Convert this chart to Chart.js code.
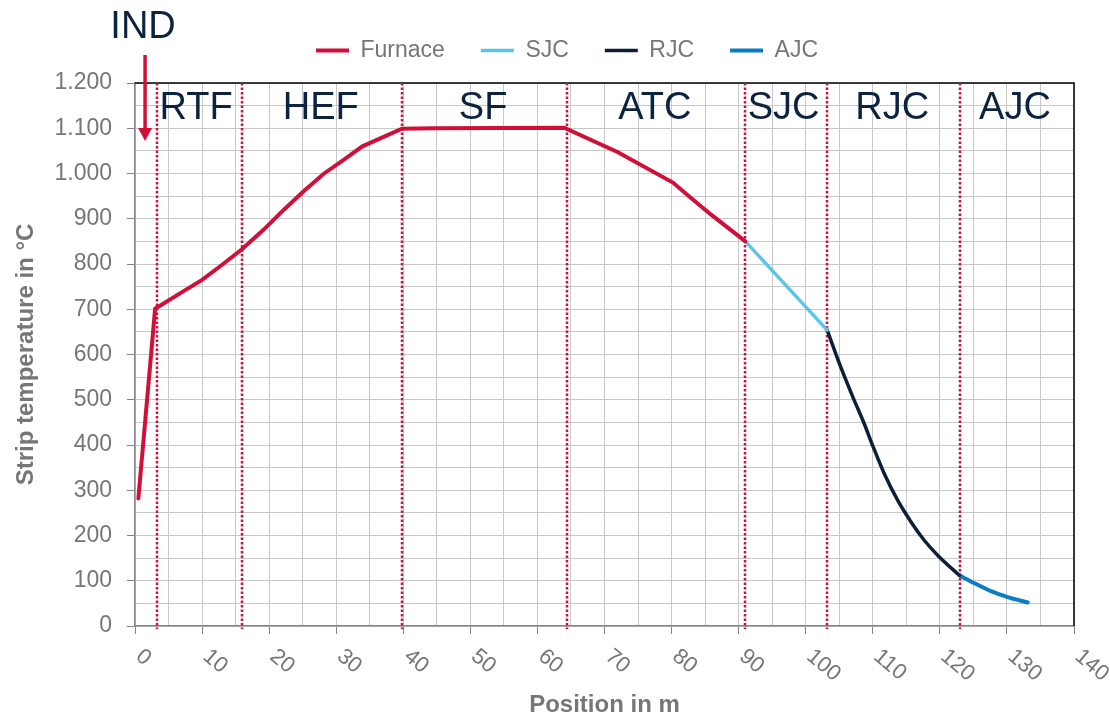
<!DOCTYPE html>
<html>
<head>
<meta charset="utf-8">
<title>Strip temperature</title>
<script src="https://cdn.jsdelivr.net/npm/chart.js@4.4.0/dist/chart.umd.min.js"></script>
<style>
    html, body { margin: 0; padding: 0; background: #fff; }
    canvas { display: block; }
</style>
</head>
<body>
<canvas id="chart" width="1110" height="717"></canvas>
<script>
(function() {
    'use strict';

    // values (position in m, temperature in °C)
    var furnaceX = [0.5, 3.0, 6.7, 10, 12.7, 15.9, 19.2, 22.2, 25.1, 28.1, 31.1, 33.9, 39.8, 44.6, 64.0, 72.0, 80.2, 82.9, 85.9, 91.0];
    var furnaceY = [282, 701, 735, 765, 795, 832, 876, 920, 960, 999, 1030, 1060, 1099, 1100, 1101, 1047, 980, 946, 909, 850];
    var sjcX = [91.0, 103.2];
    var sjcY = [850, 654];
    var rjcX = [103.2, 105.2, 107.0, 108.7, 110.0, 111.7, 113.7, 115.7, 117.7, 119.7, 122.9];
    var rjcY = [654, 573, 507, 448, 398, 337, 278, 230, 189, 156, 112];
    var ajcX = [122.9, 125.1, 127.6, 130.1, 133.1];
    var ajcY = [112, 95, 77, 64, 52];

    var xTickLabels = [0, 10, 20, 30, 40, 50, 60, 70, 80, 90, 100, 110, 120, 130, 140];
    var zoneNames = ['RTF', 'HEF', 'SF', 'ATC', 'SJC', 'RJC', 'AJC'];
    var zoneCenters = [9.1, 27.7, 51.9, 77.5, 96.7, 112.9, 131.2];
    var zoneBounds = [3.3, 16.0, 39.8, 64.4, 91.0, 103.2, 123.0];
    var indPosition = 1.5;

    var FONT = "'Liberation Sans', Arial, sans-serif";
    var GREY = '#767676';
    var NAVY = '#0b2341';
    var RED = '#d0103a';

    function points(xs, ys) {
        return xs.map(function(x, i) { return { x: x, y: ys[i] }; });
    }

    function germanNumber(v) {
        if (v >= 1000) {
            return Math.floor(v / 1000) + '.' + String(v % 1000).padStart(3, '0');
        }
        return String(v);
    }

    var overlay = {
        id: 'overlay',
        afterLayout: function(chart) {
            // legend sits a bit right of the canvas centre and close to the top
            chart.legend.left += 60;
            chart.legend.top = 3;
        },
        beforeDatasetsDraw: function(chart) {
            var ctx = chart.ctx, area = chart.chartArea, xs = chart.scales.x;
            ctx.save();
            ctx.strokeStyle = '#000';
            ctx.lineWidth = 1.5;
            ctx.beginPath();
            ctx.moveTo(area.left, area.top);
            ctx.lineTo(area.right, area.top);
            ctx.lineTo(area.right, area.bottom);
            ctx.stroke();

            ctx.strokeStyle = RED;
            ctx.lineWidth = 2.5;
            ctx.setLineDash([2.5, 2]);
            zoneBounds.forEach(function(v) {
                var x = Math.round(xs.getPixelForValue(v));
                ctx.beginPath();
                ctx.moveTo(x, area.top);
                ctx.lineTo(x, area.bottom + 3);
                ctx.stroke();
            });
            ctx.restore();
        },
        afterDraw: function(chart) {
            var ctx = chart.ctx, area = chart.chartArea;
            var xs = chart.scales.x, ys = chart.scales.y;
            ctx.save();

            // x tick labels, turned clockwise
            ctx.fillStyle = GREY;
            ctx.font = '22px ' + FONT;
            ctx.textAlign = 'left';
            ctx.textBaseline = 'alphabetic';
            xTickLabels.forEach(function(v) {
                ctx.save();
                ctx.translate(xs.getPixelForValue(v) + 10, area.bottom + 20);
                ctx.rotate(40 * Math.PI / 180);
                ctx.fillText(String(v), 0, 16);
                ctx.restore();
            });

            // zone names
            ctx.fillStyle = NAVY;
            ctx.font = '38px ' + FONT;
            ctx.textAlign = 'center';
            zoneNames.forEach(function(name, i) {
                ctx.fillText(name, xs.getPixelForValue(zoneCenters[i]), ys.getPixelForValue(1121));
            });

            // IND label and arrow
            var ix = xs.getPixelForValue(indPosition);
            ctx.fillText('IND', ix - 2, 38);
            var tip = ys.getPixelForValue(1072);
            ctx.strokeStyle = RED;
            ctx.fillStyle = RED;
            ctx.lineWidth = 3.5;
            ctx.beginPath();
            ctx.moveTo(ix, 55);
            ctx.lineTo(ix, tip - 12);
            ctx.stroke();
            ctx.beginPath();
            ctx.moveTo(ix - 7, tip - 13);
            ctx.lineTo(ix + 7, tip - 13);
            ctx.lineTo(ix, tip);
            ctx.closePath();
            ctx.fill();

            ctx.restore();
        }
    };

    var chart = new Chart(document.getElementById('chart'), {
        type: 'line',
        data: {
            datasets: [{
                label: 'Furnace',
                data: points(furnaceX, furnaceY),
                borderColor: RED,
                backgroundColor: RED,
                borderWidth: 4,
                borderCapStyle: 'round',
                pointRadius: 0,
                tension: 0
            }, {
                label: 'SJC',
                data: points(sjcX, sjcY),
                borderColor: '#5bc5e8',
                backgroundColor: '#5bc5e8',
                borderWidth: 3.5,
                borderCapStyle: 'round',
                pointRadius: 0,
                tension: 0
            }, {
                label: 'RJC',
                data: points(rjcX, rjcY),
                borderColor: '#0c1f3a',
                backgroundColor: '#0c1f3a',
                borderWidth: 3.5,
                borderCapStyle: 'round',
                pointRadius: 0,
                cubicInterpolationMode: 'monotone'
            }, {
                label: 'AJC',
                data: points(ajcX, ajcY),
                borderColor: '#0a7cc4',
                backgroundColor: '#0a7cc4',
                borderWidth: 4,
                borderCapStyle: 'round',
                pointRadius: 0,
                cubicInterpolationMode: 'monotone'
            }]
        },
        options: {
            responsive: false,
            animation: false,
            events: [],
            layout: { padding: { left: 0, right: 36, top: 14, bottom: 0 } },
            plugins: {
                tooltip: { enabled: false },
                legend: {
                    position: 'top',
                    labels: {
                        usePointStyle: true,
                        pointStyle: 'line',
                        pointStyleWidth: 33,
                        padding: 36,
                        color: GREY,
                        font: { family: FONT, size: 23 }
                    }
                }
            },
            scales: {
                x: {
                    type: 'linear',
                    min: 0,
                    max: 140,
                    afterFit: function(scale) { scale.height = 91; },
                    ticks: { stepSize: 5, display: false, autoSkip: false },
                    grid: {
                        color: '#c8c8c8',
                        tickLength: 8,
                        tickColor: function(c) {
                            return c.tick && c.tick.value % 10 === 0 ? '#868686' : 'rgba(0,0,0,0)';
                        }
                    },
                    border: { color: '#868686', width: 1.5 },
                    title: {
                        display: true,
                        text: 'Position in m',
                        color: GREY,
                        font: { family: FONT, size: 24, weight: 'bold', lineHeight: 1 },
                        padding: { top: 0, bottom: 0 }
                    }
                },
                y: {
                    min: 0,
                    max: 1200,
                    afterFit: function(scale) { scale.width = 135; },
                    ticks: {
                        stepSize: 50,
                        autoSkip: false,
                        padding: 15,
                        color: GREY,
                        font: { family: FONT, size: 23 },
                        callback: function(v) { return v % 100 === 0 ? germanNumber(v) : ''; }
                    },
                    grid: {
                        color: '#c8c8c8',
                        tickLength: 8,
                        tickColor: function(c) {
                            return c.tick && c.tick.value % 100 === 0 ? '#868686' : 'rgba(0,0,0,0)';
                        }
                    },
                    border: { color: '#868686', width: 1.5 },
                    title: {
                        display: true,
                        text: 'Strip temperature in °C',
                        color: GREY,
                        font: { family: FONT, size: 24, weight: 'bold', lineHeight: 1 },
                        padding: { top: 14, bottom: 0 }
                    }
                }
            }
        },
        plugins: [overlay]
    });
})();
</script>
</body>
</html>
